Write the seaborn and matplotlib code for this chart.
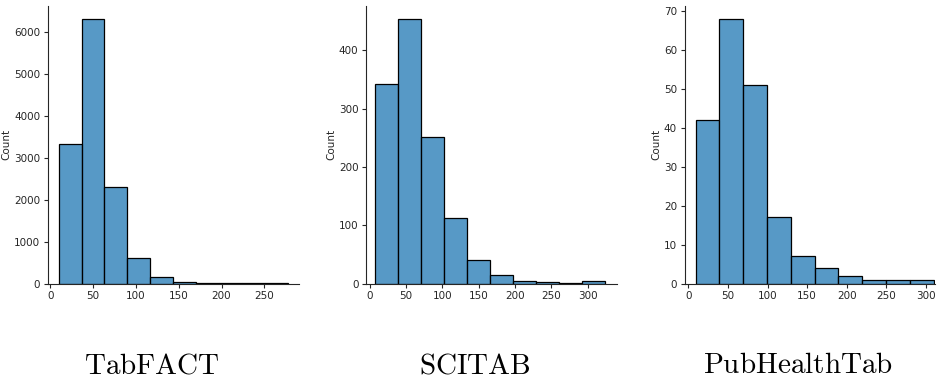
import numpy as np
import pandas as pd
import matplotlib
matplotlib.use("Agg")
import matplotlib.pyplot as plt
import seaborn as sns

# ---- data ----
names = ["TabFACT", "SCITAB", "PubHealthTab"]

tabfact_range = (9.5, 278.0)
tabfact_counts = [3335, 6325, 2300, 598, 150, 30, 4, 2, 1, 1]

scitab_range = (7.6, 323.7)
scitab_counts = [342, 454, 251, 112, 41, 14, 4, 3, 1, 4]

pubhealth_range = (9.0, 310.0)
pubhealth_counts = [42, 68, 51, 17, 7, 4, 2, 1, 1, 1]

xticks_list = [[0, 50, 100, 150, 200, 250],
               [0, 50, 100, 150, 200, 250, 300],
               [0, 50, 100, 150, 200, 250, 300]]
yticks_list = [[0, 1000, 2000, 3000, 4000, 5000, 6000],
               [0, 100, 200, 300, 400],
               [0, 10, 20, 30, 40, 50, 60, 70]]
xlims = [(-3, 290), (-5, 340), (-5, 312)]
title_x = [152 / 938, 475 / 938, 798 / 938]

sns.set_style("ticks")
plt.rcParams["mathtext.fontset"] = "cm"

fig, axes = plt.subplots(1, 3, figsize=(9.38, 3.78), dpi=100)
fig.subplots_adjust(left=0.051, right=0.997, top=0.985, bottom=0.25, wspace=0.27)

datasets = [(tabfact_range, tabfact_counts),
            (scitab_range, scitab_counts),
            (pubhealth_range, pubhealth_counts)]

for ax, name, (rng, counts), xt, yt, xl, tx in zip(axes, names, datasets, xticks_list,
                                                   yticks_list, xlims, title_x):
    n = len(counts)
    width = (rng[1] - rng[0]) / n
    centers = [rng[0] + width * (i + 0.5) for i in range(n)]
    df = pd.DataFrame({"value": centers, "count": counts})
    sns.histplot(data=df, x="value", weights="count", bins=n, binrange=rng, ax=ax,
                 color="#1f77b4", edgecolor="black", linewidth=0.9, alpha=0.75)
    ax.set_xticks(xt)
    ax.set_yticks(yt)
    ax.set_xlim(*xl)
    ax.tick_params(labelsize=7.5, length=3, width=0.8, pad=2.5)
    ax.set_ylabel("Count", fontsize=7.5, labelpad=2)
    ax.set_xlabel("")
    fig.text(tx, 1 - 373 / 378, r"$\mathrm{" + name + "}$", fontsize=21,
             ha="center", va="baseline", color="black")
    sns.despine(ax=ax)
    for s in ["left", "bottom"]:
        ax.spines[s].set_linewidth(0.8)

fig.savefig("out.png", dpi=100)
